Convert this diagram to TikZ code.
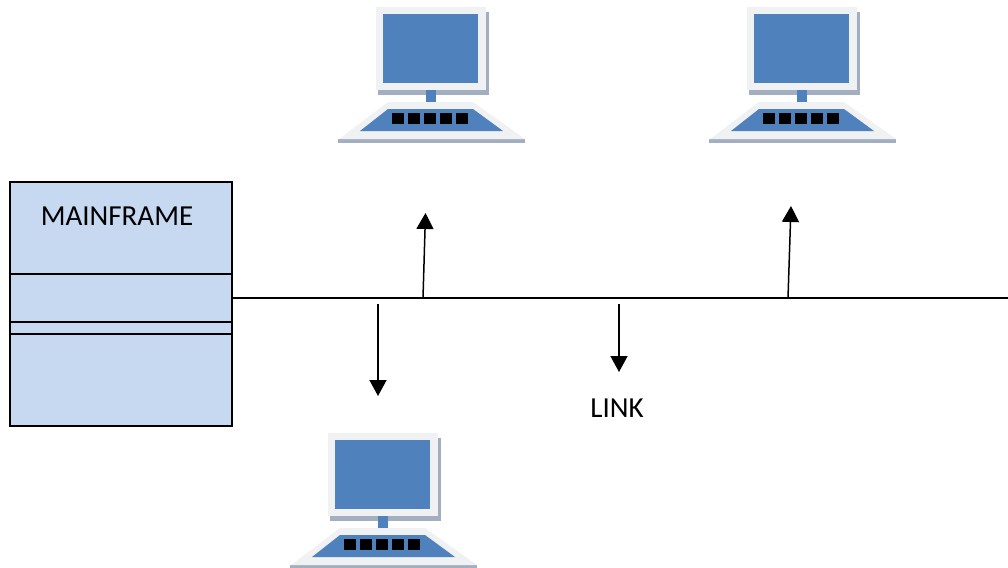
\documentclass[tikz,border=0pt]{standalone}
\usepackage{fontspec}
\setmainfont{Carlito}
\usetikzlibrary{arrows.meta}
\definecolor{boxblue}{HTML}{C6D9F1}
\definecolor{screenblue}{HTML}{4F81BD}
\definecolor{framegray}{HTML}{F0F1F2}
\definecolor{shadowgray}{HTML}{A3AFC0}
\tikzset{
	mainbox/.style={draw=black, fill=boxblue, line width=0.03cm, minimum width=4.44cm, minimum height=4.88cm, inner sep=0pt},
	label/.style={inner sep=0pt, font=\fontsize{16.5}{18}\selectfont},
	linkwire/.style={black, line width=0.03cm},
	linkarrow/.style={black, line width=0.03cm, -{Triangle[width=0.34cm,length=0.32cm]}},
	pics/computer/.style={code={
		%monitor
		\fill[shadowgray] (48,12) rectangle (159,95);
		\fill[framegray] (46,7) rectangle (156,90);
		\fill[screenblue] (53,14) rectangle (148,83);
		\fill[screenblue] (96,90) rectangle (106,105);
		%base
		\fill[shadowgray] (8,139) -- (195,139) -- (195,143) -- (8,143) -- cycle;
		\fill[framegray] (58,102) -- (143,102) -- (195,139) -- (9,139) -- cycle;
		\fill[screenblue] (58,109) -- (143,109) -- (173,131) -- (30,131) -- cycle;
		%keys
		\foreach \k in {0,1,2,3,4}
			\fill[black] (62+16*\k,113) rectangle (74+16*\k,124);
	}}
}

\begin{document}
\begin{tikzpicture}[x=0.02cm,y=-0.02cm]
	\useasboundingbox (0,0) rectangle (1008,568);
	%computers
	\pic (topLeft) at (330,0) {computer};
	\pic (topRight) at (701,0) {computer};
	\pic (bottom) at (282,426) {computer};
	%mainframe
	\node[mainbox] (mainframe) at (121,304) {};
	\draw[linkwire] (10,274) -- (232,274);
	\draw[linkwire] (10,322) -- (232,322);
	\draw[linkwire] (10,334) -- (232,334);
	\node[label] (mainLabel) at (117,216) {MAINFRAME};
	%link
	\coordinate (linkStart) at (232,298);
	\coordinate (linkEnd) at (1008,298);
	\draw[linkwire] (linkStart) -- (linkEnd);
	\node[label] (linkLabel) at (617,408) {LINK};
	%up arrows
	\coordinate (upFromA) at (423,298);
	\coordinate (upToA) at (425.5,213);
	\coordinate (upFromB) at (788,298);
	\coordinate (upToB) at (791,206);
	\draw[linkarrow] (upFromA) -- (upToA);
	\draw[linkarrow] (upFromB) -- (upToB);
	%down arrows
	\coordinate (downFromA) at (378,304);
	\coordinate (downToA) at (378,396);
	\coordinate (downFromB) at (619,304);
	\coordinate (downToB) at (619,372);
	\draw[linkarrow] (downFromA) -- (downToA);
	\draw[linkarrow] (downFromB) -- (downToB);
\end{tikzpicture}
\end{document}
